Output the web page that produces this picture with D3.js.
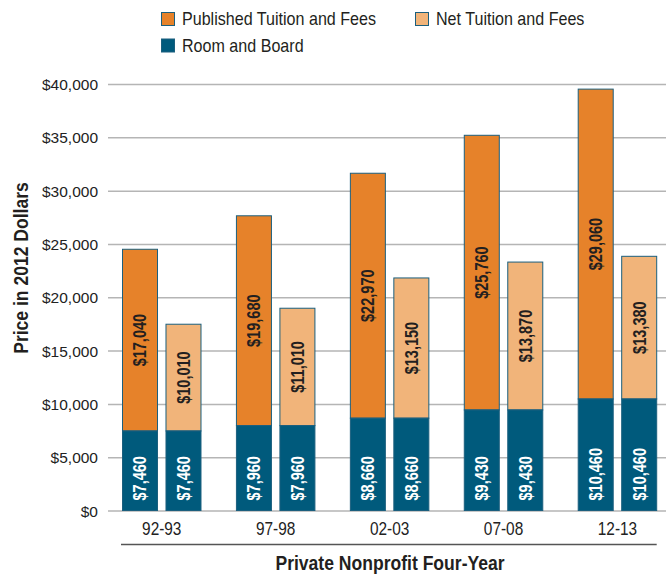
<!DOCTYPE html>
<html>
<head>
<meta charset="utf-8">
<script src="https://cdn.jsdelivr.net/npm/d3@7"></script>
<style>
  body { margin: 0; background: #fff; }
  text { font-family: "Liberation Sans", Arial, sans-serif; }
</style>
</head>
<body>
<div id="chart"></div>
<script>
const WIDTH = 666;
const HEIGHT = 575;

// chart data
const years = ['92-93', '97-98', '02-03', '07-08', '12-13'];
const roomBoard = [7460, 7960, 8660, 9430, 10460];
const published = [17040, 19680, 22970, 25760, 29060];
const netTuition = [10010, 11010, 13150, 13870, 13380];
const yTicks = [0, 5000, 10000, 15000, 20000, 25000, 30000, 35000, 40000];
const barKinds = ['published', 'net'];
const legendItems = ['Published Tuition and Fees', 'Net Tuition and Fees', 'Room and Board'];

const COLORS = {
    published: '#e6822a',
    net: '#f1b47a',
    room: '#005a7c',
    stroke: '#1b5f7e'
};

// the original uses a condensed face, squeeze the text a little
const SQUEEZE = 0.83;

const fmt = d => '$' + d3.format(',')(d);

// build rows: one per bar
const rows = [];
years.forEach((yr, i) => {
    rows.push({ year: yr, kind: 'published', room: roomBoard[i], tuition: published[i] });
    rows.push({ year: yr, kind: 'net', room: roomBoard[i], tuition: netTuition[i] });
});

const svg = d3.select('#chart')
    .append('svg')
    .attr('width', WIDTH)
    .attr('height', HEIGHT);

// Scales
const yScale = d3.scaleLinear()
    .domain([0, 40000])
    .range([510.5, 84]);

const xScale = d3.scaleBand()
    .domain(years)
    .range([122.5, 656.7])
    .paddingInner(0.311)
    .paddingOuter(0);

const xInner = d3.scaleBand()
    .domain(barKinds)
    .range([0, xScale.bandwidth()])
    .paddingInner(0.195)
    .paddingOuter(0);

// Gridlines + y labels
const yAxis = d3.axisLeft(yScale)
    .tickValues(yTicks)
    .tickSize(-(WIDTH - 108))
    .tickPadding(10)
    .tickFormat(fmt);

const yG = svg.append('g')
    .attr('transform', 'translate(108,0)')
    .call(yAxis);
yG.select('.domain').remove();
yG.selectAll('.tick line')
    .attr('stroke', '#b5b5b5')
    .attr('stroke-width', 1.5);
yG.selectAll('.tick text')
    .attr('fill', '#222')
    .style('font-size', '15.5px')
    .attr('dy', '0.36em');

// Bars
const groups = svg.selectAll('.bar')
    .data(rows)
    .enter()
    .append('g')
    .attr('class', 'bar')
    .attr('transform', d => `translate(${xScale(d.year) + xInner(d.kind)},0)`);

groups.append('rect')
    .attr('x', 0)
    .attr('width', xInner.bandwidth())
    .attr('y', d => yScale(d.room + d.tuition))
    .attr('height', d => yScale(d.room) - yScale(d.room + d.tuition))
    .attr('fill', d => COLORS[d.kind])
    .attr('stroke', COLORS.stroke)
    .attr('stroke-width', 1);

groups.append('rect')
    .attr('x', 0)
    .attr('width', xInner.bandwidth())
    .attr('y', d => yScale(d.room))
    .attr('height', d => yScale(0) - yScale(d.room))
    .attr('fill', COLORS.room)
    .attr('stroke', COLORS.stroke)
    .attr('stroke-width', 1);

// Labels inside bars
groups.append('text')
    .attr('transform', d => `translate(${xInner.bandwidth() / 2},${(yScale(d.room) + yScale(d.room + d.tuition)) / 2}) rotate(-90) scale(${SQUEEZE},1)`)
    .attr('text-anchor', 'middle')
    .attr('dy', '0.36em')
    .style('font-size', '17.5px')
    .style('font-weight', 'bold')
    .attr('fill', '#231f20')
    .text(d => fmt(d.tuition));

groups.append('text')
    .attr('transform', `translate(${xInner.bandwidth() / 2},${yScale(0)}) rotate(-90) scale(${SQUEEZE},1)`)
    .attr('x', 10 / SQUEEZE)
    .attr('text-anchor', 'start')
    .attr('dy', '0.36em')
    .style('font-size', '17.5px')
    .style('font-weight', 'bold')
    .attr('fill', '#fff')
    .text(d => fmt(d.room));

// x labels
const xAxis = d3.axisBottom(xScale)
    .tickSize(0)
    .tickPadding(0);

const xG = svg.append('g')
    .attr('transform', 'translate(0,535)')
    .call(xAxis);
xG.select('.domain').remove();
xG.selectAll('.tick text')
    .attr('dy', 0)
    .attr('transform', 'scale(0.88,1)')
    .attr('x', 0)
    .attr('fill', '#222')
    .style('font-size', '17.5px');

// line under the labels
svg.append('line')
    .attr('x1', xScale.range()[0] - 1.5)
    .attr('x2', xScale.range()[1])
    .attr('y1', 544.5)
    .attr('y2', 544.5)
    .attr('stroke', '#555')
    .attr('stroke-width', 1.5);

// axis titles
svg.append('text')
    .attr('transform', 'translate(390,570) scale(0.9,1)')
    .attr('text-anchor', 'middle')
    .style('font-size', '19.5px')
    .style('font-weight', 'bold')
    .attr('fill', '#231f20')
    .text('Private Nonprofit Four-Year');

svg.append('text')
    .attr('transform', 'translate(27.5,268) rotate(-90) scale(0.9,1)')
    .attr('text-anchor', 'middle')
    .style('font-size', '19.5px')
    .style('font-weight', 'bold')
    .attr('fill', '#231f20')
    .text('Price in 2012 Dollars');

// Legend
const legendPos = [
    { x: 161.5, y: 12.5 },
    { x: 415.5, y: 12.5 },
    { x: 161.5, y: 39 }
];
const legendColors = [COLORS.published, COLORS.net, COLORS.room];

const legend = svg.selectAll('.legend')
    .data(legendItems)
    .enter()
    .append('g')
    .attr('class', 'legend')
    .attr('transform', (d, i) => `translate(${legendPos[i].x},${legendPos[i].y})`);

legend.append('rect')
    .attr('width', 13)
    .attr('height', 13)
    .attr('fill', (d, i) => legendColors[i])
    .attr('stroke', COLORS.stroke)
    .attr('stroke-width', 1);

legend.append('text')
    .attr('transform', 'translate(20.5,12.5) scale(0.92,1)')
    .style('font-size', '17.5px')
    .attr('fill', '#231f20')
    .text(d => d);
</script>
</body>
</html>
